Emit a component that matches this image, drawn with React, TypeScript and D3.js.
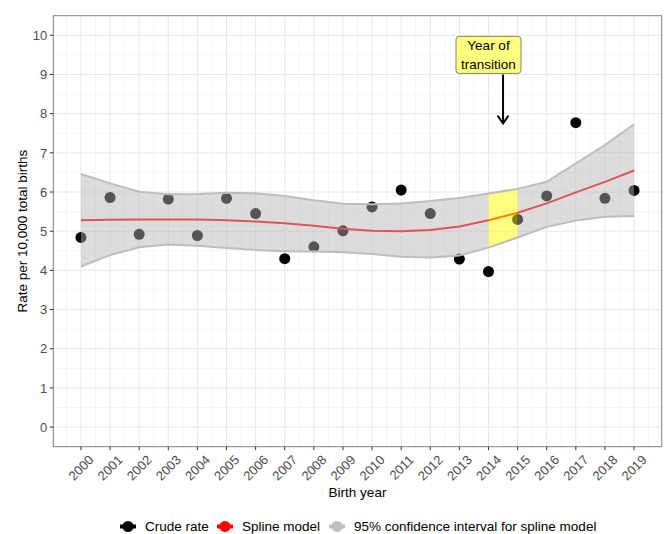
import { useEffect, useRef } from 'react'
import * as d3 from 'd3'

// Crude rate per 10,000 total births by birth year, with spline fit and its 95% CI
const years = [2000, 2001, 2002, 2003, 2004, 2005, 2006, 2007, 2008, 2009, 2010, 2011, 2012, 2013, 2014, 2015, 2016, 2017, 2018, 2019]
const crudeRate = [4.84, 5.86, 4.92, 5.82, 4.89, 5.84, 5.45, 4.30, 4.60, 5.01, 5.62, 6.05, 5.45, 4.29, 3.97, 5.30, 5.90, 7.77, 5.84, 6.04]
const splineFit = [5.28, 5.29, 5.30, 5.30, 5.30, 5.28, 5.25, 5.20, 5.14, 5.06, 5.01, 5.00, 5.03, 5.12, 5.28, 5.47, 5.71, 5.99, 6.26, 6.55]
const ciUpper = [6.46, 6.22, 6.01, 5.94, 5.95, 5.98, 5.97, 5.90, 5.79, 5.70, 5.69, 5.71, 5.77, 5.85, 5.96, 6.08, 6.26, 6.73, 7.20, 7.73]
const ciLower = [4.10, 4.39, 4.59, 4.66, 4.63, 4.57, 4.52, 4.49, 4.48, 4.46, 4.42, 4.35, 4.33, 4.38, 4.58, 4.84, 5.11, 5.27, 5.37, 5.39]

const yTicks = [0, 1, 2, 3, 4, 5, 6, 7, 8, 9, 10]
const transitionYears = [2014, 2015]
const labelLines = ['Year of', 'transition']
const labelPos = { year: 2014, value: 9.5 }
const arrowPos = { year: 2014.5, from: 9, to: 7.75 }

const legendItems = [
  { label: 'Crude rate', color: '#000000' },
  { label: 'Spline model', color: '#ff0000' },
  { label: '95% confidence interval for spline model', color: '#bebebe' },
]

const FONT = '"Liberation Sans", Arial, sans-serif'

export default function App() {
  const svgRef = useRef<SVGSVGElement>(null)

  useEffect(() => {
    document.body.style.margin = '0'
    if (!svgRef.current) return
    const svg = d3.select(svgRef.current)
    svg.selectAll('*').remove()

    const width = 667
    const height = 534
    const panel = { left: 53.3, right: 661.7, top: 15.7, bottom: 446.7 }

    const x = d3.scaleLinear().domain([1999.05, 2019.95]).range([panel.left, panel.right])
    const y = d3.scaleLinear().domain([-0.5, 10.5]).range([panel.bottom, panel.top])
    const idx = (yr: number) => years.indexOf(yr)

    svg.append('rect').attr('width', width).attr('height', height).attr('fill', '#ffffff')

    // Grid lines
    const grid = svg.append('g')
    const minorX = d3.range(1999.5, 2020, 1)
    const minorY = d3.range(0.5, 10.5, 1)
    grid.selectAll('line.mx').data(minorX).join('line')
      .attr('x1', d => x(d)).attr('x2', d => x(d))
      .attr('y1', panel.top).attr('y2', panel.bottom)
      .attr('stroke', '#f2f2f2').attr('stroke-width', 0.8)
    grid.selectAll('line.my').data(minorY).join('line')
      .attr('x1', panel.left).attr('x2', panel.right)
      .attr('y1', d => y(d)).attr('y2', d => y(d))
      .attr('stroke', '#f2f2f2').attr('stroke-width', 0.8)
    grid.selectAll('line.gx').data(years).join('line')
      .attr('x1', d => x(d)).attr('x2', d => x(d))
      .attr('y1', panel.top).attr('y2', panel.bottom)
      .attr('stroke', '#e8e8e8').attr('stroke-width', 1)
    grid.selectAll('line.gy').data(yTicks).join('line')
      .attr('x1', panel.left).attr('x2', panel.right)
      .attr('y1', d => y(d)).attr('y2', d => y(d))
      .attr('stroke', '#e8e8e8').attr('stroke-width', 1)

    // Crude rate points
    svg.append('g').selectAll('circle').data(years).join('circle')
      .attr('cx', d => x(d))
      .attr('cy', d => y(crudeRate[idx(d)]))
      .attr('r', 5.5)
      .attr('fill', '#000000')

    // Spline line
    const line = d3.line<number>()
      .x(d => x(d))
      .y(d => y(splineFit[idx(d)]))
    svg.append('path')
      .datum(years)
      .attr('d', line)
      .attr('fill', 'none')
      .attr('stroke', '#ff0000')
      .attr('stroke-width', 2)

    // Confidence band (split around the transition year)
    const area = d3.area<number>()
      .x(d => x(d))
      .y0(d => y(ciLower[idx(d)]))
      .y1(d => y(ciUpper[idx(d)]))
    const before = years.filter(d => d <= transitionYears[0])
    const after = years.filter(d => d >= transitionYears[1])
    ;[before, after].forEach(seg => {
      svg.append('path')
        .datum(seg)
        .attr('d', area)
        .attr('fill', '#b5b5b5')
        .attr('fill-opacity', 0.47)
    })

    // Transition year highlight
    svg.append('path')
      .datum(transitionYears)
      .attr('d', area)
      .attr('fill', '#ffff00')
      .attr('fill-opacity', 0.5)

    const upperLine = d3.line<number>().x(d => x(d)).y(d => y(ciUpper[idx(d)]))
    const lowerLine = d3.line<number>().x(d => x(d)).y(d => y(ciLower[idx(d)]))
    svg.append('path').datum(years).attr('d', upperLine)
      .attr('fill', 'none').attr('stroke', '#bdbdbd').attr('stroke-width', 2)
    svg.append('path').datum(years).attr('d', lowerLine)
      .attr('fill', 'none').attr('stroke', '#bdbdbd').attr('stroke-width', 2)

    // Panel border
    svg.append('rect')
      .attr('x', panel.left).attr('y', panel.top)
      .attr('width', panel.right - panel.left).attr('height', panel.bottom - panel.top)
      .attr('fill', 'none').attr('stroke', '#808080').attr('stroke-width', 1)

    // Y axis
    const yAxis = svg.append('g')
    yAxis.selectAll('line').data(yTicks).join('line')
      .attr('x1', panel.left - 3.5).attr('x2', panel.left)
      .attr('y1', d => y(d)).attr('y2', d => y(d))
      .attr('stroke', '#333333')
    yAxis.selectAll('text').data(yTicks).join('text')
      .attr('x', panel.left - 6)
      .attr('y', d => y(d))
      .attr('dy', '0.36em')
      .attr('text-anchor', 'end')
      .style('font-family', FONT)
      .style('font-size', '13px')
      .style('fill', '#4d4d4d')
      .text(d => d)

    // X axis
    const xAxis = svg.append('g')
    xAxis.selectAll('line').data(years).join('line')
      .attr('x1', d => x(d)).attr('x2', d => x(d))
      .attr('y1', panel.bottom).attr('y2', panel.bottom + 3.5)
      .attr('stroke', '#333333')
    xAxis.selectAll('text').data(years).join('text')
      .attr('transform', d => `translate(${x(d) + 13.5}, ${panel.bottom + 14}) rotate(-45)`)
      .attr('text-anchor', 'end')
      .style('font-family', FONT)
      .style('font-size', '13px')
      .style('fill', '#4d4d4d')
      .text(d => d)

    // Axis titles
    svg.append('text')
      .attr('transform', `translate(26.5, ${(panel.top + panel.bottom) / 2}) rotate(-90)`)
      .attr('text-anchor', 'middle')
      .style('font-family', FONT)
      .style('font-size', '13.5px')
      .style('fill', '#000000')
      .text('Rate per 10,000 total births')
    svg.append('text')
      .attr('x', (panel.left + panel.right) / 2)
      .attr('y', 497)
      .attr('text-anchor', 'middle')
      .style('font-family', FONT)
      .style('font-size', '13.5px')
      .style('fill', '#000000')
      .text('Birth year')

    // Annotation label
    const lx = x(labelPos.year)
    const ly = y(labelPos.value)
    const boxW = 65
    const boxH = 37
    svg.append('rect')
      .attr('x', lx - boxW / 2).attr('y', ly - boxH / 2)
      .attr('width', boxW).attr('height', boxH)
      .attr('rx', 3).attr('ry', 3)
      .attr('fill', '#ffff80')
      .attr('stroke', '#666666').attr('stroke-width', 0.8)
    svg.append('g').selectAll('text').data(labelLines).join('text')
      .attr('x', lx)
      .attr('y', (_, i) => ly - 4.5 + i * 19)
      .attr('text-anchor', 'middle')
      .style('font-family', FONT)
      .style('font-size', '13.5px')
      .style('fill', '#000000')
      .text(d => d)

    // Arrow
    const ax = x(arrowPos.year)
    const ay0 = y(arrowPos.from)
    const ay1 = y(arrowPos.to)
    svg.append('line')
      .attr('x1', ax).attr('x2', ax)
      .attr('y1', ay0).attr('y2', ay1)
      .attr('stroke', '#000000').attr('stroke-width', 2)
    svg.append('path')
      .attr('d', `M${ax - 5.5},${ay1 - 8} L${ax},${ay1} L${ax + 5.5},${ay1 - 8}`)
      .attr('fill', 'none')
      .attr('stroke', '#000000').attr('stroke-width', 2)
      .attr('stroke-linejoin', 'miter')

    // Legend
    const legendX = [128, 225, 337]
    const legend = svg.append('g')
    legendItems.forEach((item, i) => {
      const g = legend.append('g').attr('transform', `translate(${legendX[i]}, 526.5)`)
      g.append('line')
        .attr('x1', -8).attr('x2', 8)
        .attr('y1', 0).attr('y2', 0)
        .attr('stroke', item.color).attr('stroke-width', 4)
      g.append('circle').attr('r', 5.5).attr('fill', item.color)
      g.append('text')
        .attr('x', 17)
        .attr('y', 4.3)
        .style('font-family', FONT)
        .style('font-size', '13.5px')
        .style('fill', '#000000')
        .text(item.label)
    })
  }, [])

  return (
    <svg
      ref={svgRef}
      width={667}
      height={534}
      style={{ display: 'block', position: 'absolute', left: 0, top: 0 }}
    />
  )
}
